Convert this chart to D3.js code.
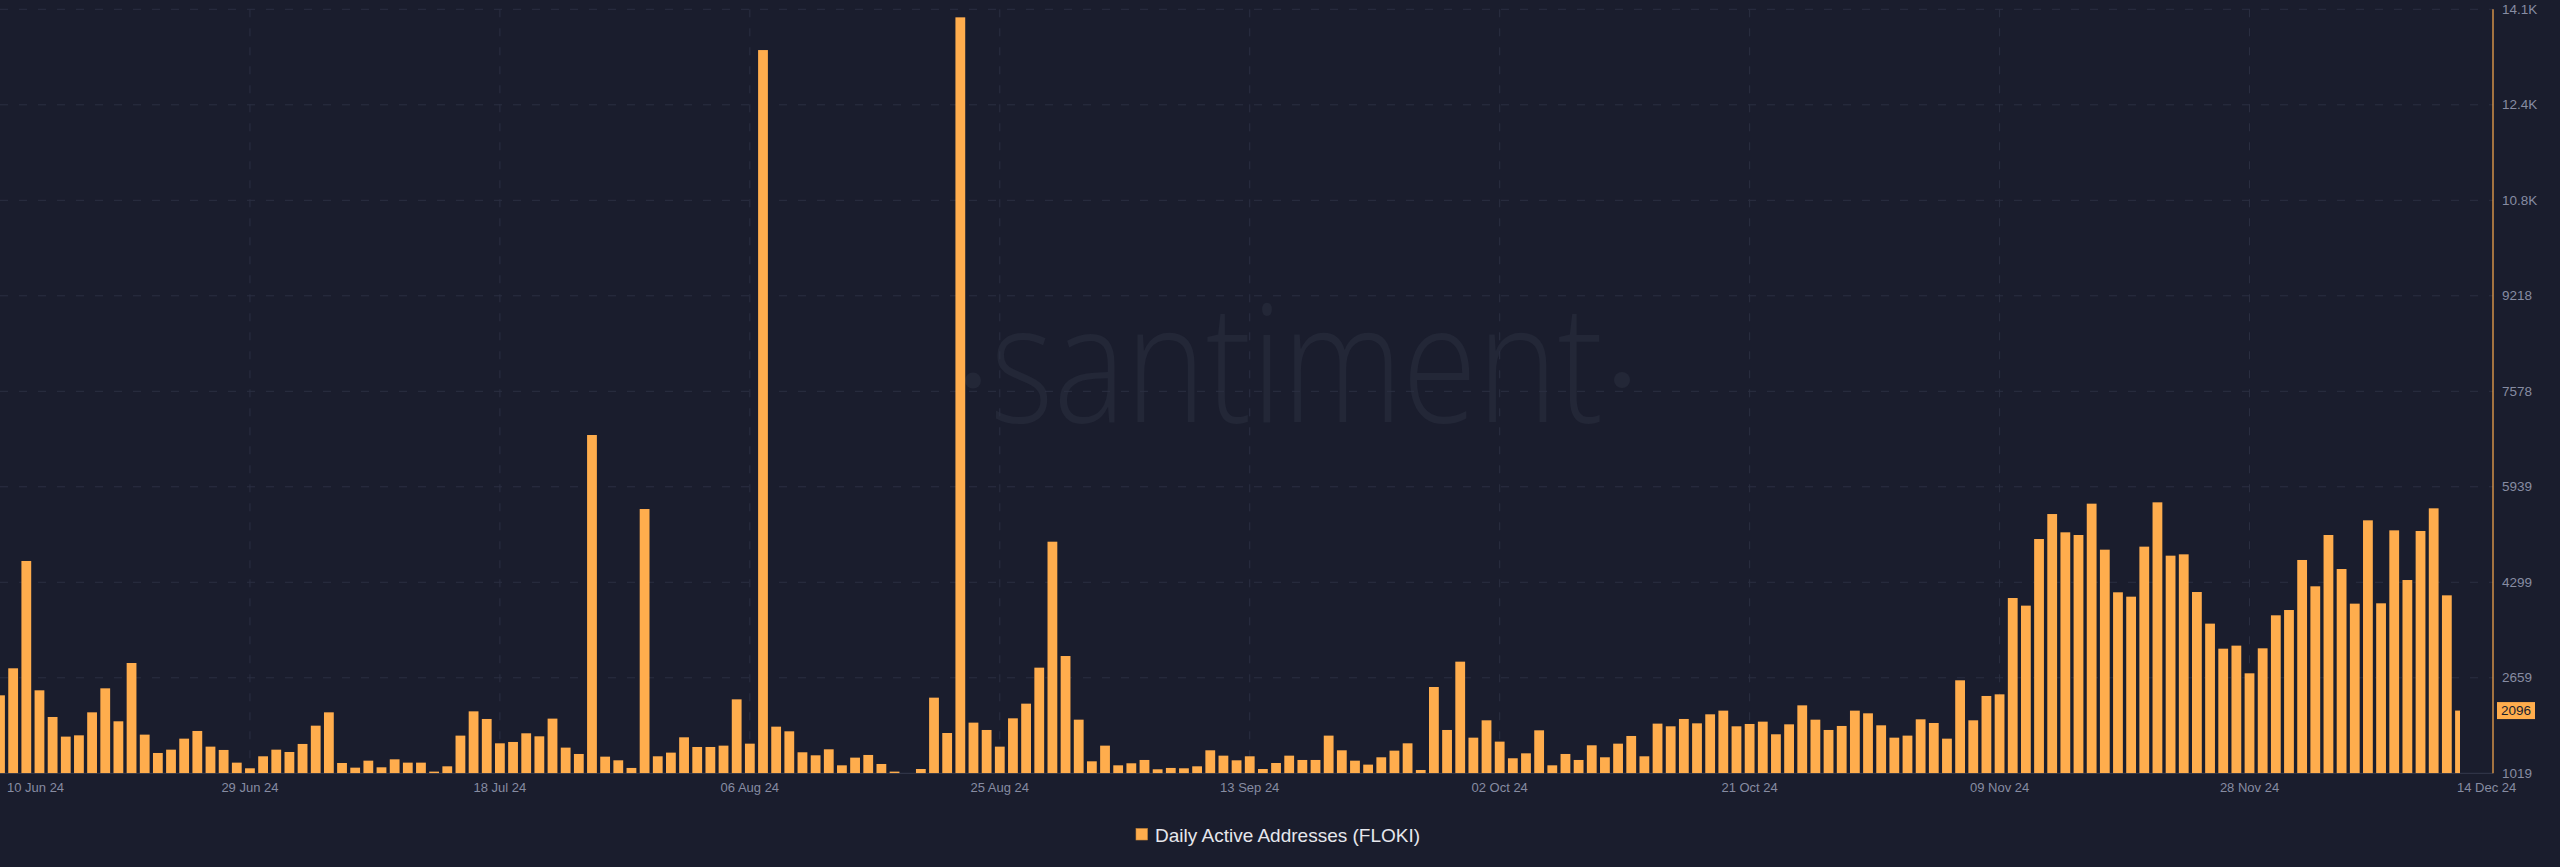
<!DOCTYPE html>
<html>
<head>
<meta charset="utf-8">
<script src="https://cdn.jsdelivr.net/npm/d3@7"></script>
<style>
  html, body { margin: 0; padding: 0; background: #1a1d2d; overflow: hidden; }
  svg { display: block; }
</style>
</head>
<body>
<svg id="chart" width="2560" height="867"></svg>
<script>
// ---- DATA ----
const startDate = "2024-06-10";
const endDate = "2024-12-14";
const seriesName = "Daily Active Addresses (FLOKI)";
const values = [
  2358, 2822, 4665, 2444, 1986, 1649, 1671, 2066, 2478, 1912,
  2913, 1683, 1368, 1425, 1614, 1746, 1477, 1420, 1202, 1105,
  1311, 1425, 1385, 1523, 1837, 2066, 1196, 1116, 1236, 1122,
  1259, 1202, 1202, 1048, 1139, 1666, 2083, 1952, 1534, 1557,
  1706, 1654, 1958, 1460, 1351, 6828, 1305, 1242, 1111, 5557,
  1311, 1374, 1637, 1471, 1471, 1494, 2289, 1528, 13438, 1820,
  1740, 1380, 1328, 1431, 1156, 1288, 1334, 1179, 1048, 1019,
  1093, 2318, 1711, 14000, 1889, 1763, 1477, 1963, 2215, 2833,
  4996, 3033, 1940, 1225, 1494, 1156, 1191, 1248, 1088, 1111,
  1105, 1139, 1414, 1322, 1242, 1311, 1093, 1196, 1322, 1248,
  1248, 1666, 1414, 1236, 1168, 1294, 1408, 1534, 1076, 2501,
  1763, 2936, 1631, 1929, 1563, 1277, 1362, 1757, 1156, 1351,
  1248, 1500, 1294, 1528, 1660, 1311, 1872, 1826, 1952, 1877,
  2032, 2095, 1826, 1866, 1906, 1689, 1860, 2186, 1940, 1763,
  1832, 2095, 2049, 1843, 1631, 1666, 1946, 1883, 1614, 2616,
  1929, 2347, 2375, 4029, 3898, 5042, 5471, 5157, 5111, 5649,
  4859, 4127, 4052, 4911, 5672, 4756, 4779, 4132, 3589, 3159,
  3211, 2736, 3165, 3732, 3823, 4682, 4230, 5111, 4527, 3932,
  5363, 3938, 5191, 4338, 5180, 5569, 4075, 2096
];
const xTickDates = ["2024-06-10","2024-06-29","2024-07-18","2024-08-06","2024-08-25",
  "2024-09-13","2024-10-02","2024-10-21","2024-11-09","2024-11-28","2024-12-14"];
const yTickValues = [1019, 2659, 4299, 5939, 7578, 9218, 10858, 12498, 14138];
const yTickLabels = ["1019","2659","4299","5939","7578","9218","10.8K","12.4K","14.1K"];
const lastValueLabel = "2096";

// ---- SETUP ----
const parse = d3.utcParse("%Y-%m-%d");
const dates = d3.utcDay.range(parse(startDate), d3.utcDay.offset(parse(endDate), 1));
const data = dates.map((d, i) => ({ date: d, value: values[i] }));

const svg = d3.select("#chart");
const W = 2560, H = 867;
const plotLeft = 0, plotRight = 2460, axisX = 2493;
const yTop = 9.3, yBottom = 773.3;

const bg = "#1a1d2d", orange = "#ffad4d", gridColor = "#2b2f42", labelColor = "#878ca2";

svg.append("rect").attr("width", W).attr("height", H).attr("fill", bg);

const x = d3.scaleUtc().domain([parse(startDate), parse(endDate)]).range([plotLeft, plotRight]);
const y = d3.scaleLinear().domain([yTickValues[0], yTickValues[yTickValues.length - 1]]).range([yBottom, yTop]);

// watermark
const wm = svg.append("g");
wm.append("text")
  .attr("x", 990).attr("y", 422)
  .attr("textLength", 613).attr("lengthAdjust", "spacingAndGlyphs")
  .attr("font-family", "'Open Sans', 'DejaVu Sans', sans-serif")
  .attr("font-weight", 300)
  .attr("font-size", 164)
  .attr("fill", "#232737")
  .text("santiment");
wm.append("circle").attr("cx", 973).attr("cy", 380.5).attr("r", 8).attr("fill", "#232737");
wm.append("circle").attr("cx", 1622).attr("cy", 380).attr("r", 8).attr("fill", "#232737");

// horizontal grid
svg.append("g").selectAll("line").data(yTickValues.slice(1)).join("line")
  .attr("x1", plotLeft).attr("x2", axisX)
  .attr("y1", d => y(d)).attr("y2", d => y(d))
  .attr("stroke", gridColor).attr("stroke-width", 1)
  .attr("stroke-dasharray", "8,11");

// vertical grid
svg.append("g").selectAll("line").data(xTickDates.slice(1, -1)).join("line")
  .attr("x1", d => x(parse(d))).attr("x2", d => x(parse(d)))
  .attr("y1", yTop).attr("y2", yBottom)
  .attr("stroke", gridColor).attr("stroke-width", 1)
  .attr("stroke-dasharray", "8,11");

// baseline
svg.append("line")
  .attr("x1", plotLeft).attr("x2", axisX)
  .attr("y1", yBottom).attr("y2", yBottom)
  .attr("stroke", "#353a4d").attr("stroke-width", 1);

// clip
svg.append("clipPath").attr("id", "plotclip")
  .append("rect").attr("x", plotLeft).attr("y", 0).attr("width", plotRight - plotLeft).attr("height", yBottom);

const barW = 9.8;
svg.append("g").attr("clip-path", "url(#plotclip)")
  .selectAll("rect").data(data).join("rect")
  .attr("x", d => x(d.date) - barW / 2)
  .attr("width", barW)
  .attr("y", d => y(d.value))
  .attr("height", d => Math.max(0, yBottom - y(d.value)))
  .attr("fill", orange);

// right axis line
svg.append("line")
  .attr("x1", axisX).attr("x2", axisX)
  .attr("y1", yTop).attr("y2", yBottom)
  .attr("stroke", orange).attr("stroke-width", 1.2);

// y tick labels
svg.append("g").selectAll("text").data(yTickValues).join("text")
  .attr("x", axisX + 9)
  .attr("y", d => y(d))
  .attr("dominant-baseline", "central")
  .attr("font-family", "'Liberation Sans', Arial, sans-serif")
  .attr("font-size", 13.5)
  .attr("fill", labelColor)
  .text((d, i) => yTickLabels[i]);

// last value badge
const lastVal = values[values.length - 1];
svg.append("rect")
  .attr("x", 2497).attr("y", y(lastVal) - 8.5)
  .attr("width", 38).attr("height", 17)
  .attr("fill", orange);
svg.append("text")
  .attr("x", 2516).attr("y", y(lastVal))
  .attr("text-anchor", "middle").attr("dominant-baseline", "central")
  .attr("font-family", "'Liberation Sans', Arial, sans-serif")
  .attr("font-size", 13.5)
  .attr("fill", "#1a1d2d")
  .text(lastValueLabel);

// x tick labels
const fmt = d3.utcFormat("%d %b %y");
svg.append("g").selectAll("text").data(xTickDates).join("text")
  .attr("x", (d, i) => {
    const px = x(parse(d));
    if (i === 0) return px + 7;
    if (i === xTickDates.length - 1) return px - 3;
    return px;
  })
  .attr("y", 787)
  .attr("text-anchor", (d, i) => (i === 0 || i === xTickDates.length - 1) ? "start" : "middle")
  .attr("dominant-baseline", "central")
  .attr("font-family", "'Liberation Sans', Arial, sans-serif")
  .attr("font-size", 13)
  .attr("fill", labelColor)
  .text(d => fmt(parse(d)));

// legend
svg.append("rect")
  .attr("x", 1136).attr("y", 828.5).attr("width", 11.5).attr("height", 11.5)
  .attr("fill", orange).attr("stroke", "#c98838").attr("stroke-width", 0.6);
svg.append("text")
  .attr("x", 1155).attr("y", 835)
  .attr("dominant-baseline", "central")
  .attr("font-family", "'Liberation Sans', Arial, sans-serif")
  .attr("font-size", 19)
  .attr("fill", "#e6e7ec")
  .text(seriesName);
</script>
</body>
</html>
